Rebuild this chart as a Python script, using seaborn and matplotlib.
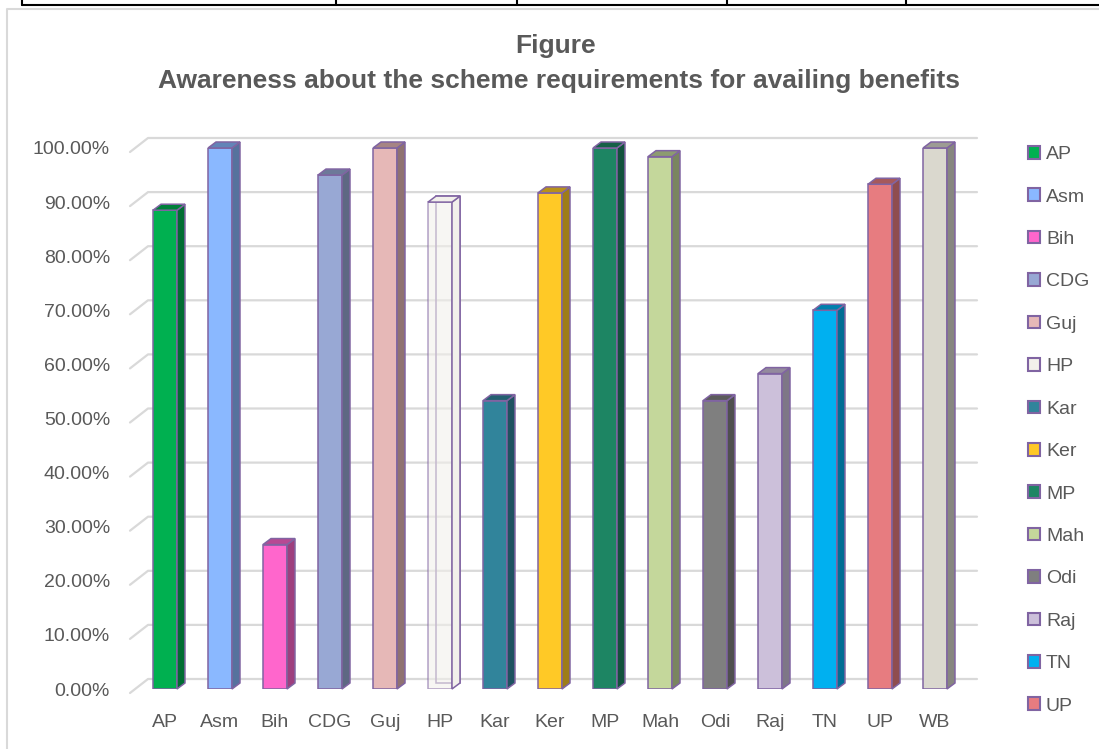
import numpy as np
import pandas as pd
import seaborn as sns
import matplotlib.pyplot as plt
from matplotlib.lines import Line2D
from matplotlib.patches import Polygon, Patch, Rectangle
from matplotlib.transforms import IdentityTransform
import matplotlib.colors as mcolors

# data
states = ['AP', 'Asm', 'Bih', 'CDG', 'Guj', 'HP', 'Kar', 'Ker', 'MP', 'Mah',
          'Odi', 'Raj', 'TN', 'UP', 'WB']
awareness = [0.885, 1.0, 0.267, 0.95, 1.0, 0.90, 0.533, 0.917, 1.0, 0.984,
             0.533, 0.583, 0.70, 0.933, 1.0]
yticks = [0.0, 0.1, 0.2, 0.3, 0.4, 0.5, 0.6, 0.7, 0.8, 0.9, 1.0]
ytick_labels = ['%.2f%%' % (v * 100) for v in yticks]
legend_states = states[:14]   # WB is cut off in the legend

bar_colors = ['#00B050', '#8AB8FF', '#FF66CC', '#98A8D4', '#E6B8B7', '#F2F0EB',
              '#31849B', '#FFC926', '#1D8563', '#C4D79B', '#7F7F7F', '#CCC0DA',
              '#00B0F0', '#E77C80', '#DAD8CE']
edge = '#8064A2'
grey_txt = '#595959'

df = pd.DataFrame({'state': states, 'awareness': awareness})

sns.set_style("white")
plt.rcParams['font.family'] = ['Liberation Sans', 'DejaVu Sans']

W, H = 1099, 749
fig = plt.figure(figsize=(W / 100, H / 100), dpi=100)
ax = fig.add_axes([137.5 / W, 60 / H, 825 / W, 541 / H])

sns.barplot(data=df, x='state', y='awareness', hue='state', order=states,
            hue_order=states, palette=bar_colors, legend=False, width=0.436,
            saturation=1, edgecolor=edge, linewidth=1.1, ax=ax, zorder=2)

ax.set_xlim(-0.5, 14.5)
ax.set_ylim(0, 1)
ax.set_autoscale_on(False)
for s in ax.spines.values():
    s.set_visible(False)
ax.set_xlabel('')
ax.set_ylabel('')
ax.set_yticks(yticks)
ax.set_yticklabels(ytick_labels)
ax.tick_params(axis='y', length=0, pad=19.8, labelsize=14, labelcolor=grey_txt)
ax.tick_params(axis='x', length=0, pad=18, labelsize=14, labelcolor=grey_txt)

to_px = ax.transData.transform
ident = IdentityTransform()

# back-wall gridlines with the little floor diagonal on the left
xl = to_px((-0.5, 0))[0]
xr = to_px((14.5, 0))[0]
for v in yticks:
    Y = to_px((0, v))[1]
    ax.add_line(Line2D([xl - 7.5, xl + 10.5, xr + 14.5], [Y - 4, Y + 10, Y + 10],
                       transform=ident, color='#D9D9D9', lw=1.6,
                       clip_on=False, zorder=0.5))

# fake 3D: side and top faces for every bar
dx, dy = 8, 6
for p in ax.patches:
    x, w, h = p.get_x(), p.get_width(), p.get_height()
    x0, y0 = to_px((x, 0))
    x1, y1 = to_px((x + w, h))
    fc = np.array(mcolors.to_rgb(p.get_facecolor()))
    light = fc.mean() > 0.9
    if light:
        p.set_alpha(0.6)
        side_c, top_c = fc, fc
        # back edges seen through the glass bar
        ax.add_patch(Rectangle((x0 + dx, y0 + dy), x1 - x0, y1 - y0, transform=ident,
                               fill=False, edgecolor=edge, lw=1.1, clip_on=False, zorder=1.5))
    else:
        side_c, top_c = fc * 0.62, fc * 0.72
    ax.add_patch(Polygon([(x1, y0), (x1, y1), (x1 + dx, y1 + dy), (x1 + dx, y0 + dy)],
                         closed=True, transform=ident, facecolor=side_c, edgecolor=edge,
                         lw=1.1, clip_on=False, zorder=2))
    ax.add_patch(Polygon([(x0, y1), (x1, y1), (x1 + dx, y1 + dy), (x0 + dx, y1 + dy)],
                         closed=True, transform=ident, facecolor=top_c, edgecolor=edge,
                         lw=1.1, clip_on=False, zorder=2))

# legend
handles = [Patch(facecolor=c, edgecolor=edge, linewidth=1.5) for c in bar_colors[:14]]
leg = fig.legend(handles, legend_states, loc='upper left', bbox_to_anchor=(1028 / W, 1 - 146 / H),
                 frameon=False, fontsize=14, handlelength=0.62, handleheight=0.62,
                 handletextpad=0.3, labelspacing=1.3, borderpad=0, borderaxespad=0)
for t in leg.get_texts():
    t.set_color(grey_txt)

# title
fig.text(556 / W, 1 - 53 / H, 'Figure', ha='center', va='baseline', fontsize=19,
         fontweight='bold', color=grey_txt)
fig.text(559 / W, 1 - 88 / H, 'Awareness about the scheme requirements for availing benefits',
         ha='center', va='baseline', fontsize=19, fontweight='bold', color=grey_txt)

# chart frame and the table row above it
fig.add_artist(Line2D([7 / W, 7 / W, 1], [0, 1 - 9 / H, 1 - 9 / H], transform=fig.transFigure,
                      color='#D9D9D9', lw=1.5))
fig.add_artist(Line2D([22 / W, 1], [1 - 5 / H, 1 - 5 / H], transform=fig.transFigure,
                      color='black', lw=1.5))
for xv in [22, 336, 517, 727, 906]:
    fig.add_artist(Line2D([xv / W, xv / W], [1 - 5 / H, 1], transform=fig.transFigure,
                          color='black', lw=1.5))

fig.savefig('out.png', dpi=100, facecolor='white')
